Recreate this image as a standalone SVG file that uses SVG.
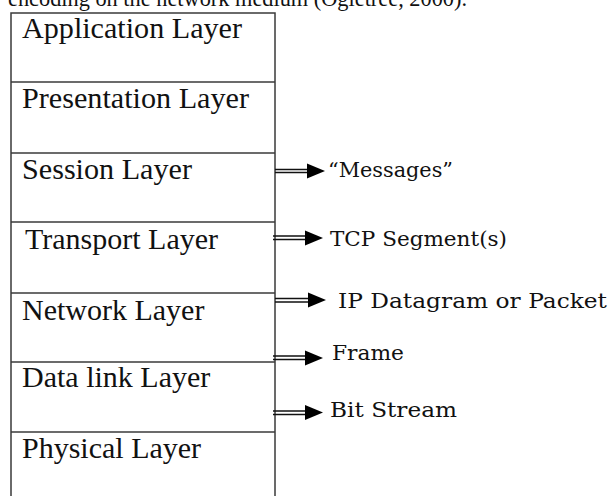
<svg xmlns="http://www.w3.org/2000/svg" width="611" height="496" viewBox="0 0 611 496">
<style>
.frame{fill:none;stroke:#3a3a3a;stroke-width:1.5}
.div{stroke:#3a3a3a;stroke-width:1.5}
.lay{font-family:"Liberation Serif","Times New Roman",serif;font-size:30px;fill:#111}
.lbl{font-family:"DejaVu Serif","Liberation Serif",serif;font-size:21px;fill:#111}
.top{font-family:"Liberation Serif","Times New Roman",serif;font-size:23px;fill:#111}
.dl{stroke:#111;stroke-width:1.3;fill:none}
.ah{fill:#000}
</style>
<defs>
<path id="head" class="ah" d="M0,-7.5 L18,0 L0,7.5 Z"/>
</defs>
<rect width="611" height="496" fill="#fff"/>
<text class="top" x="8" y="6" textLength="459" lengthAdjust="spacingAndGlyphs">encoding on the network medium (Ogletree, 2000).</text>
<g id="stack">
<rect class="frame" x="11" y="13" width="264" height="500"/>
</g>
<g id="application"><text class="lay" x="22" y="38" textLength="220" lengthAdjust="spacingAndGlyphs">Application Layer</text></g>
<g id="presentation"><line class="div" x1="11" y1="82" x2="275" y2="82"/><text class="lay" x="22" y="108" textLength="227" lengthAdjust="spacingAndGlyphs">Presentation Layer</text></g>
<g id="session"><line class="div" x1="11" y1="153" x2="275" y2="153"/><text class="lay" x="22" y="179" textLength="170" lengthAdjust="spacingAndGlyphs">Session Layer</text></g>
<g id="transport"><line class="div" x1="11" y1="222" x2="275" y2="222"/><text class="lay" x="25" y="249">Transport Layer</text></g>
<g id="network"><line class="div" x1="11" y1="293" x2="275" y2="293"/><text class="lay" x="22" y="320">Network Layer</text></g>
<g id="datalink"><line class="div" x1="11" y1="362" x2="275" y2="362"/><text class="lay" x="22" y="387">Data link Layer</text></g>
<g id="physical"><line class="div" x1="11" y1="432" x2="275" y2="432"/><text class="lay" x="22" y="458">Physical Layer</text></g>
<g id="connectors">
<path class="dl" d="M275,169.5 H309 M275,172.5 H309"/><use href="#head" x="307" y="171"/>
<path class="dl" d="M273,236 H307 M273,239.5 H307"/><use href="#head" x="305" y="238"/>
<path class="dl" d="M275,298.5 H310 M275,302 H310"/><use href="#head" x="308" y="300"/>
<path class="dl" d="M273,356 H307 M273,359.5 H307"/><use href="#head" x="305" y="358"/>
<path class="dl" d="M273,411 H307 M273,414.5 H307"/><use href="#head" x="305" y="412.5"/>
</g>
<g id="labels">
<text class="lbl" x="328" y="177" textLength="125" lengthAdjust="spacingAndGlyphs">“Messages”</text>
<text class="lbl" x="330" y="246" textLength="177" lengthAdjust="spacingAndGlyphs">TCP Segment(s)</text>
<text class="lbl" x="338" y="308" textLength="269" lengthAdjust="spacingAndGlyphs">IP Datagram or Packet</text>
<text class="lbl" x="332" y="360" textLength="72" lengthAdjust="spacingAndGlyphs">Frame</text>
<text class="lbl" x="330" y="417" textLength="127" lengthAdjust="spacingAndGlyphs">Bit Stream</text>
</g>
</svg>
